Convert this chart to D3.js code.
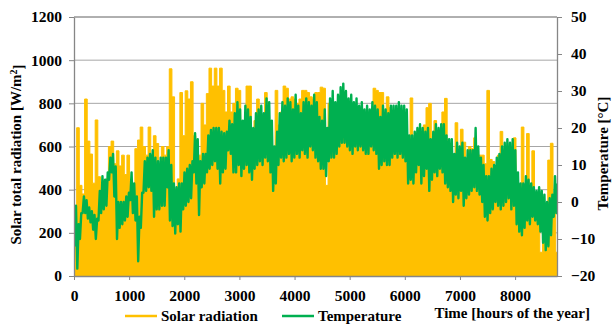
<!DOCTYPE html>
<html>
<head>
<meta charset="utf-8">
<script src="https://cdn.jsdelivr.net/npm/d3@7"></script>
<style>
  body { margin: 0; background: #fff; }
  svg text { font-family: "Liberation Serif", "Times New Roman", serif; font-weight: bold; fill: #000; }
</style>
</head>
<body>
<svg id="chart" width="612" height="325"></svg>
<script>
(function() {

// ---------- data: one value per 2-day block (48 h) ----------
const blockHours = 48;
const yearHours = 8760;

// peak solar radiation in each block [W/m2]
const solar = [
  140, 687, 420, 380, 820, 625, 565, 430, 723, 460, 380, 330, 450, 600, 625,
  520, 580, 510, 560, 470, 560, 400, 350, 590, 630, 690, 600, 560, 690, 560,
  650, 614, 520, 600, 560, 600, 960, 830, 400, 450, 850, 650, 858, 820, 900,
  650, 600, 560, 800, 700, 845, 963, 880, 963, 880, 963, 860, 760, 880, 760,
  800, 870, 860, 700, 720, 880, 880, 680, 720, 820, 700, 740, 850, 720, 660,
  560, 860, 700, 760, 880, 870, 820, 830, 820, 800, 820, 860, 860, 850, 830,
  820, 850, 850, 875, 870, 420, 800, 780, 720, 760, 780, 800, 760, 720, 700,
  680, 700, 650, 680, 640, 660, 640, 700, 870, 860, 850, 850, 640, 830, 780,
  700, 650, 690, 660, 640, 600, 520, 825, 600, 620, 640, 560, 700, 780, 800,
  560, 720, 600, 640, 760, 823, 560, 520, 480, 710, 500, 680, 620, 500, 600,
  590, 640, 480, 560, 560, 520, 860, 540, 530, 450, 560, 670, 450, 480, 400,
  420, 640, 380, 330, 690, 420, 660, 350, 580, 300, 260, 110, 180, 250, 537,
  615, 300, 110
];

// lowest temperature in each block [°C]
const tempMin = [
  -12, -18, -10, -3, -3, -4.5, -5.5, -7.5, -10, -5, -3, -2, -1, 6, 8,
  1.5, -10, -7, -6, -5, -4, 0.5, -3, -5, -16, -7, 2.5, 3, 4, 3,
  -4, -2, -2, -1, -1, 4, -5, -6.5, -8.5, -6, -8, -2, -1, 0, 1,
  8, 5, -3.5, 4, 5, 8, 9, 10, 11, 9, 5, 8, 9, 14, 13,
  8, 8, 10, 7, 9, 10, 8, 6, 9, 10, 11, 10, 12, 11, 8,
  3, 5, 10, 12, 11, 12, 13, 11, 12, 13, 12, 14, 13, 12, 15,
  14, 12, 11, 9, 9, 7, 11, 12, 12, 13, 15, 16, 16, 15, 14,
  13, 15, 14, 15, 14, 13, 13, 15, 14, 13, 9, 10, 11, 10, 10,
  12, 13, 12, 13, 12, 11, 5, 6, 5, 8, 10, 5, 7, 9, 3,
  6, 8, 7, 9, 8, 5, 4, 3, 0, 2, 1, 3, -1, 1, 2,
  3, 4, 3, 2, 0, -4, -5, -3, -2, 0, -1, -2, -1, 0, 1,
  -2, -1, -6, -8, -9, -7, -5, -6, -4, -5, -6, -8, -11, -13, -12,
  -9, -4, -3
];

// highest temperature in each block [°C]
const tempMax = [
  -1, -6, -3, 1.5, 0.5, -1.5, -2.5, -3.5, -4.5, 3, 7, 6, 8, 12, 13,
  9.6, 0, 0, 0, 1.5, 2.5, 8, 5, 1.5, -4, 2.5, 11, 12, 13, 14,
  12, 11, 12, 12, 12, 14, 10, 5, 4, 5, 5, 8, 9, 10, 11,
  18.6, 17, 11, 13, 13, 18, 19.5, 20, 20, 20, 19, 18.6, 19, 22, 21,
  24, 27, 25, 22, 26, 25, 23, 20, 24, 25, 26, 24, 28, 27, 22,
  15, 19, 24, 27, 26, 28, 27, 25, 29, 26, 24, 27, 28, 27, 26,
  29, 27, 23, 22, 25, 20, 28, 30, 27, 29, 31, 32, 30, 28, 29,
  27, 28, 26, 27, 25, 26, 25, 27, 26, 25, 23, 26, 25, 24, 26,
  26, 26, 27, 26, 26, 25, 18, 18, 19, 20, 21, 20, 19, 20, 17,
  19, 21, 20, 21, 21, 18, 17, 17, 13, 16, 15, 16, 12, 14, 14,
  14, 20, 15, 12, 10, 7, 7, 9, 10, 12, 13, 15, 16, 17, 16,
  17, 14, 8, 5, 5, 7, 6, 5, 4, 3, 4, 3, 2, 0, 1,
  2, 7, 5
];

const radTicks = [0, 200, 400, 600, 800, 1000, 1200];
const tempTicks = [-20, -10, 0, 10, 20, 30, 40, 50];
const hourTicks = [0, 1000, 2000, 3000, 4000, 5000, 6000, 7000, 8000];

const colSolar = "#FFC000";
const colTemp = "#00B050";

// ---------- layout ----------
const left = 74, right = 557, top = 17, bottom = 276;

const svg = d3.select("#chart");

const x = d3.scaleLinear().domain([0, yearHours]).range([left, right]);
const yRad = d3.scaleLinear().domain([0, 1200]).range([bottom, top]);
const yTemp = d3.scaleLinear().domain([-20, 50]).range([bottom, top]);

svg.append("clipPath").attr("id", "plot-clip")
  .append("rect")
    .attr("x", left).attr("y", top - 2)
    .attr("width", right - left).attr("height", bottom - top + 2);

// gridlines
svg.append("g")
  .selectAll("line")
  .data(radTicks.filter(d => d > 0))
  .join("line")
    .attr("x1", left).attr("x2", right)
    .attr("y1", d => yRad(d)).attr("y2", d => yRad(d))
    .attr("stroke", "#a6a6a6")
    .attr("stroke-width", 1);

const plot = svg.append("g").attr("clip-path", "url(#plot-clip)");

// solar radiation as a stepped area of block peaks
const solarPts = solar.map((v, i) => ({ h: i * blockHours, v }));
solarPts.push({ h: solar.length * blockHours, v: solar[solar.length - 1] });

plot.append("path")
  .datum(solarPts)
  .attr("d", d3.area()
    .curve(d3.curveStepAfter)
    .x(d => x(d.h))
    .y0(yRad(0))
    .y1(d => yRad(d.v)))
  .attr("fill", colSolar)
  .attr("stroke", colSolar)
  .attr("stroke-width", 1);

// temperature: zig-zag between block lows and highs
const tempPts = [];
tempMin.forEach((v, i) => {
  tempPts.push({ h: i * blockHours + 12, t: v });
  tempPts.push({ h: i * blockHours + 36, t: tempMax[i] });
});

plot.append("path")
  .datum(tempPts)
  .attr("d", d3.line().x(d => x(d.h)).y(d => yTemp(d.t)))
  .attr("fill", "none")
  .attr("stroke", colTemp)
  .attr("stroke-width", 2.4)
  .attr("stroke-linejoin", "round");

// top border
svg.append("line")
  .attr("x1", left).attr("x2", right)
  .attr("y1", top).attr("y2", top)
  .attr("stroke", "#8c8c8c");

// axes
function styleAxis(g) {
  g.attr("font-family", null).attr("font-size", null);
  g.selectAll(".domain").attr("stroke", "#868686").attr("stroke-width", 1.3);
  g.selectAll(".tick line").attr("stroke", "#868686");
  g.selectAll(".tick text")
    .attr("fill", "#000")
    .style("font-size", "15.5px");
}

svg.append("g")
  .attr("transform", `translate(${left},0)`)
  .call(d3.axisLeft(yRad).tickValues(radTicks).tickFormat(d3.format("d"))
    .tickSize(5).tickSizeOuter(0).tickPadding(7))
  .call(styleAxis);

svg.append("g")
  .attr("transform", `translate(0,${bottom})`)
  .call(d3.axisBottom(x).tickValues(hourTicks).tickFormat(d3.format("d"))
    .tickSize(4).tickSizeOuter(0).tickPadding(10))
  .call(styleAxis);

svg.append("g")
  .attr("transform", `translate(${right},0)`)
  .call(d3.axisRight(yTemp).tickValues(tempTicks).tickFormat(d3.format("d"))
    .tickSize(5).tickSizeOuter(0).tickPadding(9))
  .call(styleAxis);

// axis titles
const leftTitle = svg.append("text")
  .attr("transform", `translate(21,${(top + bottom) / 2 + 8}) rotate(-90)`)
  .attr("text-anchor", "middle")
  .style("font-size", "15px");
leftTitle.append("tspan").text("Solar total radiation [W/m");
leftTitle.append("tspan").attr("dy", "-0.4em").style("font-size", "10px").text("2");
leftTitle.append("tspan").attr("dy", "0.4em").text("]");

svg.append("text")
  .attr("transform", `translate(608,${(top + bottom) / 2 + 7}) rotate(-90)`)
  .attr("text-anchor", "middle")
  .style("font-size", "15px")
  .text("Temperature [°C]");

svg.append("text")
  .attr("x", 590).attr("y", 318)
  .attr("text-anchor", "end")
  .style("font-size", "15px")
  .text("Time [hours of the year]");

// legend
const legendItems = [
  { label: "Solar radiation", color: colSolar, x: 125 },
  { label: "Temperature", color: colTemp, x: 282 }
];

const lg = svg.append("g")
  .selectAll("g")
  .data(legendItems)
  .join("g")
    .attr("transform", d => `translate(${d.x},316)`);

lg.append("line")
  .attr("x1", 0).attr("x2", 32)
  .attr("stroke", d => d.color)
  .attr("stroke-width", 2.5);

lg.append("text")
  .attr("x", 36).attr("y", 5)
  .style("font-size", "15px")
  .text(d => d.label);

})();
</script>
</body>
</html>
